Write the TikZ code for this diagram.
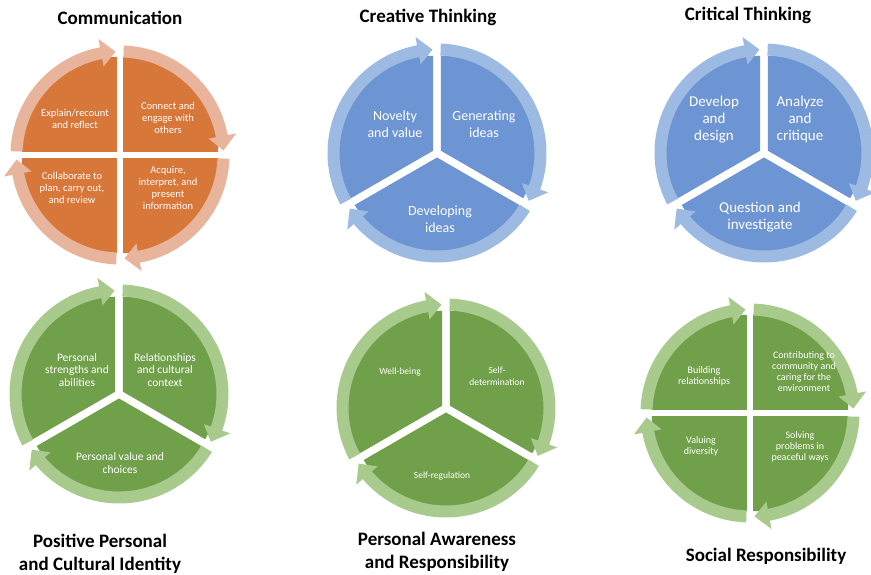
\documentclass[tikz,border=0pt]{standalone}
\usepackage{fontspec}
\setmainfont{Carlito}
\definecolor{orpie}{HTML}{D7773A}
\definecolor{orring}{HTML}{E8B49C}
\definecolor{blpie}{HTML}{6D94D3}
\definecolor{blring}{HTML}{9DBAE3}
\definecolor{grpie}{HTML}{71A04A}
\definecolor{grring}{HTML}{A8CA8C}
% wheel geometry (pt)
\def\segR{95}
\def\segoff{4.5}
\def\ringin{97.5}
\def\ringout{109.5}
\def\ringmid{103.5}
\def\headin{90}
\def\headout{118}
% exploded pie wedge: centre, start angle, end angle (clockwise), colour
\newcommand\pieseg[4]{%
  \begin{scope}[shift={(#1)}]
    \pgfmathsetmacro\segmid{(#2+#3)/2}
    \fill[#4] (\segmid:\segoff) -- ++(#2:\segR)
      arc[start angle=#2, end angle=#3, radius=\segR] -- cycle;
  \end{scope}}
% curved arrow running clockwise round a wedge
\newcommand\ringarrow[4]{%
  \begin{scope}[shift={(#1)}]
    \pgfmathsetmacro\ras{#2-2}
    \pgfmathsetmacro\rab{#3+10.5}
    \pgfmathsetmacro\rat{#3+2.5}
    \fill[#4] (\ras:\ringout) arc[start angle=\ras, end angle=\rab, radius=\ringout]
      -- (\rab:\headout) -- (\rat:\ringmid) -- (\rab:\headin) -- (\rab:\ringin)
      arc[start angle=\rab, end angle=\ras, radius=\ringin] -- cycle;
  \end{scope}}
\newcommand\wheelthree[3]{% centre, pie colour, ring colour
  \pieseg{#1}{210}{90}{#2}\pieseg{#1}{90}{-30}{#2}\pieseg{#1}{330}{210}{#2}
  \ringarrow{#1}{210}{90}{#3}\ringarrow{#1}{90}{-30}{#3}\ringarrow{#1}{330}{210}{#3}}
\newcommand\wheelfour[3]{%
  \pieseg{#1}{180}{90}{#2}\pieseg{#1}{90}{0}{#2}\pieseg{#1}{0}{-90}{#2}\pieseg{#1}{270}{180}{#2}
  \ringarrow{#1}{180}{90}{#3}\ringarrow{#1}{90}{0}{#3}\ringarrow{#1}{0}{-90}{#3}\ringarrow{#1}{270}{180}{#3}}
\begin{document}
\begin{tikzpicture}[x=1pt,y=1pt,
  title/.style={font=\bfseries\fontsize{19}{23}\selectfont, align=center, text=black, inner sep=0pt},
  lab/.style={text=white, align=center, inner sep=0pt},
  labs/.style={lab, font=\fontsize{10.5}{12.2}\selectfont},
  labm/.style={lab, font=\fontsize{11.5}{12.5}\selectfont},
  labl/.style={lab, font=\fontsize{14}{17}\selectfont},
  labxl/.style={lab, font=\fontsize{15}{17}\selectfont},
  labxs/.style={lab, font=\fontsize{9.5}{11.5}\selectfont},
  labsr/.style={lab, font=\fontsize{10}{11}\selectfont},
]
\useasboundingbox[fill=white] (0,0) rectangle (871,575);

\coordinate (comm) at (120,420);
\coordinate (crea) at (437,422);
\coordinate (crit) at (764,422);
\coordinate (ppci) at (119,181);
\coordinate (pare) at (446,167);
\coordinate (soci) at (750,162);

\wheelfour{comm}{orpie}{orring}
\wheelthree{crea}{blpie}{blring}
\wheelthree{crit}{blpie}{blring}
\wheelthree{ppci}{grpie}{grring}
\wheelthree{pare}{grpie}{grring}
\wheelfour{soci}{grpie}{grring}

% titles
\node[title] (tcomm) at (120,557) {Communication};
\node[title] (tcrea) at (428,558) {Creative Thinking};
\node[title] (tcrit) at (748,560) {Critical Thinking};
\node[title] (tppci) at (100,21) {Positive Personal\\and Cultural Identity};
\node[title] (tpare) at (437,23) {Personal Awareness\\and Responsibility};
\node[title] (tsoci) at (766,19) {Social Responsibility};

% communication
\node[labs] (c1) at (75,456) {Explain/recount\\and reflect};
\node[labs] (c2) at (168,457) {Connect and\\engage with\\others};
\node[labs] (c3) at (72,387) {Collaborate to\\plan, carry out,\\and review};
\node[labs] (c4) at (168,387) {Acquire,\\interpret, and\\present\\information};

% creative thinking
\node[labl] (k1) at (395,451) {Novelty\\and value};
\node[labl] (k2) at (484,451) {Generating\\ideas};
\node[labl] (k3) at (440,356) {Developing\\ideas};

% critical thinking
\node[labxl] (r1) at (714,455) {Develop\\and\\design};
\node[labxl] (r2) at (800,455) {Analyze\\and\\critique};
\node[labxl] (r3) at (760,358) {Question and\\investigate};

% positive personal and cultural identity
\node[labm] (p1) at (77,205) {Personal\\strengths and\\abilities};
\node[labm] (p2) at (165,205) {Relationships\\and cultural\\context};
\node[labm] (p3) at (120,112) {Personal value and\\choices};

% personal awareness and responsibility
\node[labxs] (a1) at (400,203) {Well-being};
\node[labxs] (a2) at (497,199) {Self-\\determination};
\node[labxs] (a3) at (442,99) {Self-regulation};

% social responsibility
\node[labsr] (s1) at (704,199) {Building\\relationships};
\node[labsr] (s2) at (804,203) {Contributing to\\community and\\caring for the\\environment};
\node[labsr] (s3) at (701,129) {Valuing\\diversity};
\node[labsr] (s4) at (800,128) {Solving\\problems in\\peaceful ways};
\end{tikzpicture}
\end{document}
